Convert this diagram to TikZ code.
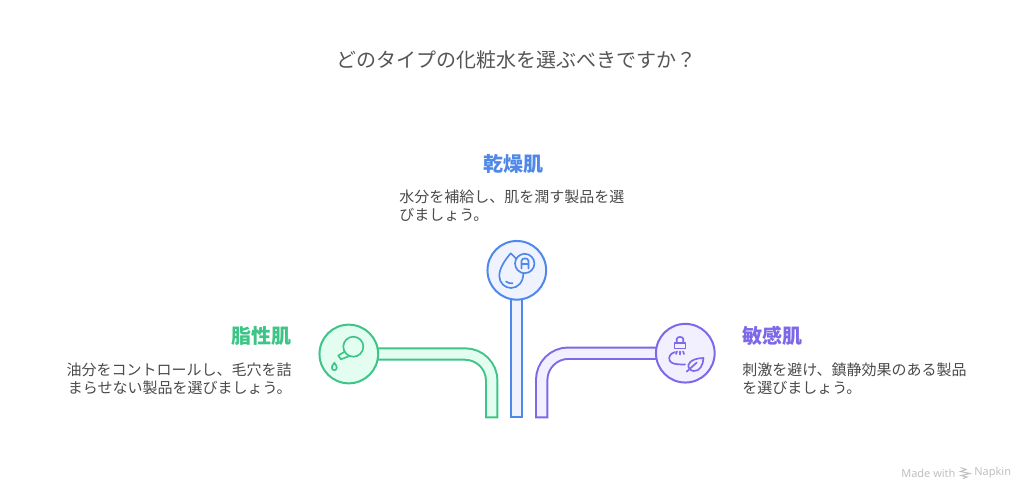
\documentclass[tikz,border=0pt]{standalone}
\usepackage{fontspec}
\newfontfamily\cjk{Noto Sans CJK JP}
\newfontfamily\latn{Noto Sans}
\usetikzlibrary{backgrounds}
\definecolor{dryline}{HTML}{4F88E8}
\definecolor{dryfill}{HTML}{EEF3FF}
\definecolor{oilyline}{HTML}{3DC587}
\definecolor{oilyfill}{HTML}{E3FDF0}
\definecolor{sensline}{HTML}{7C68E8}
\definecolor{sensfill}{HTML}{F2F0FF}
\definecolor{bodygray}{HTML}{4A4A4A}
\definecolor{titlegray}{HTML}{555555}
\definecolor{footgray}{HTML}{BFBFBF}
\begin{document}
\begin{tikzpicture}[x=0.75pt,y=-0.75pt,
    badge/.style ={circle, draw, line width=1.5pt, minimum size=44pt, inner sep=0pt},
    pipe/.style ={line width=1.5pt, double distance=7pt, line cap=rect, rounded corners=20pt},
    glyph/.style ={line width=1.25pt, line cap=round, line join=round},
    heading/.style ={font=\cjk\fontsize{15}{18}\selectfont\bfseries, inner sep=0pt},
    blurb/.style ={font=\cjk\fontsize{11.25}{13.5}\selectfont, text=bodygray, inner sep=0pt}]
   \useasboundingbox (0,0) rectangle (1034,500);

   \node[font=\cjk\fontsize{15}{18}\selectfont, text=titlegray, inner sep=0pt] (title) at (516.5,59.5) {どのタイプの化粧水を選ぶべきですか？};

   \node[badge,draw=dryline,fill=dryfill] (dry) at (516.8,270.3) {};
   \node[badge,draw=oilyline,fill=oilyfill] (oily) at (348.8,354) {};
   \node[badge,draw=sensline,fill=sensfill] (sens) at (685.3,353.2) {};

   \coordinate (dryend) at (516.8,411.8);
   \coordinate (oilyend) at (491.7,411.8);
   \coordinate (sensend) at (541.7,411.8);

   \begin{scope}[on background layer]
   \draw[pipe,draw=dryline,double=dryfill] (dry) -- (dryend);
   \draw[pipe,draw=oilyline,double=oilyfill] (oily) -| (oilyend);
   \draw[pipe,draw=sensline,double=sensfill] (sens) -| (sensend);
   \end{scope}

   \node[heading,text=dryline] (dryhead) at (513,164) {乾燥肌};
   \node[blurb,align=left,anchor=west] (drytext) at (399,205.5) {水分を補給し、肌を潤す製品を選\\びましょう。};
   \node[heading,text=oilyline,anchor=east] (oilyhead) at (292,336) {脂性肌};
   \node[blurb,align=right,anchor=east] (oilytext) at (292,378.5) {油分をコントロールし、毛穴を詰\\まらせない製品を選びましょう。};
   \node[heading,text=sensline,anchor=west] (senshead) at (742,336) {敏感肌};
   \node[blurb,align=left,anchor=west] (senstext) at (742,378.5) {刺激を避け、鎮静効果のある製品\\を選びましょう。};

   % drop and badge
   \draw[glyph,draw=dryline] (516,258.5) .. controls (514,256.5) and (512.5,255) .. (510.7,253.3)
      .. controls (505,260) and (499.3,268) .. (499.3,276) .. controls (499.3,283) and (505,288) .. (511,288)
      .. controls (518,288) and (523.3,282) .. (523.3,273.5);
   \draw[glyph,draw=dryline] (506,281.5) .. controls (508,283) and (510,283.5) .. (512.5,283.3);
   \draw[glyph,draw=dryline] (524.7,263.5) circle (9.7);
   \draw[glyph,draw=dryline] (521.5,268.5) -- (521.5,261) .. controls (521.5,257.5) and (528.5,257.5) .. (528.5,261) -- (528.5,268.5) (521.5,264) -- (528.5,264);

   % pipette
   \draw[glyph,draw=oilyline] (353.3,346.7) circle (10);
   \draw[glyph,draw=oilyline] (345,351.5) -- (338.3,355.5) -- (341,359.3) -- (349.5,356);
   \draw[glyph,draw=oilyline] (334.3,362.8) .. controls (333,365) and (331.8,366) .. (331.8,367.6)
      .. controls (331.8,371) and (336.8,371) .. (336.8,367.6) .. controls (336.8,366) and (335.6,365) .. (334.3,362.8) -- cycle;

   % brush and leaf
   \draw[glyph,draw=sensline] (676.7,343) -- (676.7,339) .. controls (676.7,336.3) and (683.3,336.3) .. (683.3,339) -- (683.3,343);
   \draw[glyph,draw=sensline] (674.5,343) -- (685.5,343) -- (685.5,348.5) -- (674.5,348.5) -- cycle;
   \draw[glyph,draw=sensline] (677,351.5) -- (676,354) (680,351.5) -- (680,354.5) (683,351.5) -- (684,354);
   \draw[glyph,draw=sensline] (675,352) .. controls (670,353.5) and (668.5,357) .. (669.5,360) .. controls (670.5,363) and (673,364.5) .. (685,364.5);
   \draw[glyph,draw=sensline] (703.5,358) .. controls (697,358) and (690,360) .. (688.5,364.7) .. controls (687.8,367.5) and (690,370.5) .. (693.5,371)
      .. controls (700,371.5) and (703,365) .. (703.5,358) -- cycle;
   \draw[glyph,draw=sensline] (686.8,371.5) -- (696.8,362.5);

   \node[font=\latn\fontsize{8.25}{10}\selectfont, text=footgray, inner sep=0pt, anchor=west] (madewith) at (901,473) {Made with};
   \node[font=\latn\fontsize{8.25}{10}\selectfont, text=footgray, inner sep=0pt, anchor=west] (napkin) at (974,473) {Napkin};
   \draw[footgray,line width=0.75pt] (960.5,467.5) -- (966,469.5) -- (960.5,471.5) -- (970,473.5) -- (961,475.5) -- (967,477) -- (963,478.5);
 \end{tikzpicture}
\end{document}
